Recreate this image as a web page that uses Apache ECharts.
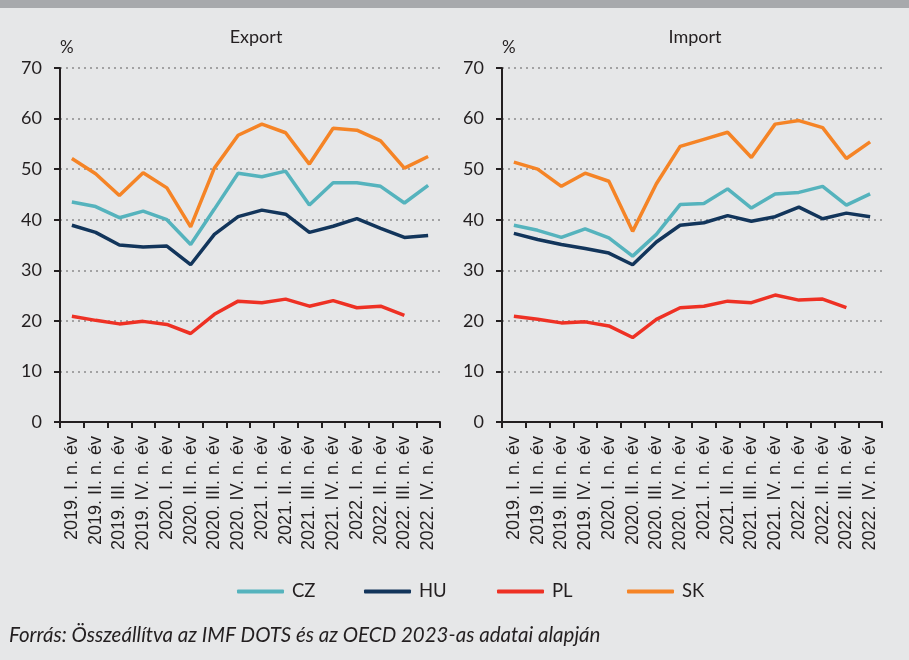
<!DOCTYPE html>
<html><head><meta charset="utf-8">
<script src="https://cdn.jsdelivr.net/npm/echarts@6/dist/echarts.min.js"></script>
<style>html,body{margin:0;padding:0;background:#e6e7e8}#c{width:909px;height:660px}</style>
</head><body><div id="c"></div>
<script>
const categories = ["2019. I. n. év","2019. II. n. év","2019. III. n. év","2019. IV. n. év","2020. I. n. év","2020. II. n. év","2020. III. n. év","2020. IV. n. év","2021. I. n. év","2021. II. n. év","2021. III. n. év","2021. IV. n. év","2022. I. n. év","2022. II. n. év","2022. III. n. év","2022. IV. n. év"];
const yTicks = [0,10,20,30,40,50,60,70];
const exportCZ = [43.5, 42.6, 40.4, 41.7, 40.0, 35.1, 42.1, 49.2, 48.5, 49.6, 42.9, 47.3, 47.3, 46.6, 43.3, 46.8];
const exportHU = [38.9, 37.5, 35.0, 34.6, 34.8, 31.1, 37.1, 40.6, 41.9, 41.1, 37.5, 38.7, 40.2, 38.3, 36.5, 36.9];
const exportPL = [20.9, 20.1, 19.4, 19.9, 19.3, 17.5, 21.3, 23.9, 23.6, 24.3, 22.9, 24.0, 22.6, 22.9, 21.1, null];
const exportSK = [52.1, 49.1, 44.8, 49.3, 46.3, 38.6, 50.2, 56.7, 58.9, 57.2, 51.0, 58.1, 57.7, 55.6, 50.2, 52.5];
const importCZ = [38.9, 37.9, 36.5, 38.2, 36.4, 32.8, 37.1, 43.0, 43.2, 46.1, 42.3, 45.1, 45.4, 46.6, 42.9, 45.1];
const importHU = [37.3, 36.1, 35.1, 34.3, 33.4, 31.1, 35.6, 38.9, 39.4, 40.8, 39.7, 40.6, 42.5, 40.2, 41.3, 40.6];
const importPL = [20.9, 20.3, 19.6, 19.8, 19.0, 16.7, 20.3, 22.6, 22.9, 23.9, 23.6, 25.1, 24.1, 24.3, 22.6, null];
const importSK = [51.4, 50.0, 46.6, 49.2, 47.6, 37.7, 47.1, 54.5, 55.9, 57.3, 52.3, 58.9, 59.6, 58.2, 52.1, 55.4];
const seriesNames = ["CZ","HU","PL","SK"];
const panelTitles = ["Export","Import"];
const sourceText = "Forrás: Összeállítva az IMF DOTS és az OECD 2023-as adatai alapján";

const colors = {CZ:'#55b3bd', HU:'#12355b', PL:'#ee3124', SK:'#f58426'};
const axisColor = '#231f20';
const calFont = 'Lato';

function xAxis(gi){
  return {
    type:'category', gridIndex:gi, data:categories, boundaryGap:true,
    axisLine:{show:true, lineStyle:{color:axisColor, width:2}},
    axisTick:{show:true, length:6, lineStyle:{color:axisColor, width:2}},
    axisLabel:{interval:0, rotate:90, margin:14, fontFamily:'Liberation Sans', fontSize:18, color:axisColor},
    splitLine:{show:false}
  };
}
function yAxis(gi){
  return {
    type:'value', gridIndex:gi, min:0, max:70, interval:10,
    name:'%', nameLocation:'end', nameGap:12,
    nameTextStyle:{fontFamily:calFont, fontSize:17, color:axisColor, align:'left', padding:[0,0,0,0]},
    axisLine:{show:true, lineStyle:{color:axisColor, width:2}},
    axisTick:{show:true, length:6, lineStyle:{color:axisColor, width:2}},
    axisLabel:{margin:18, fontFamily:calFont, fontSize:18, color:axisColor,
      formatter:(v)=> yTicks.includes(v) ? String(v) : ''},
    splitLine:{show:true, lineStyle:{color:'#8c8c8c', width:1.5, type:[2,4]}}
  };
}
function line(name, data, gi){
  return {name, type:'line', xAxisIndex:gi, yAxisIndex:gi, data, symbol:'none',
    lineStyle:{color:colors[name], width:3.5}, itemStyle:{color:colors[name]}, connectNulls:false, z:3};
}
const legendLefts = [232, 359, 492, 622];
const chart = echarts.init(document.getElementById('c'), null, {renderer:'canvas'});
chart.setOption({
  backgroundColor:'#e6e7e8',
  animation:false,
  graphic:[{type:'rect', left:0, top:0, shape:{width:909, height:8}, style:{fill:'#a7a9ac'}}],
  title:[
    {text:panelTitles[0], left:251, top:23, textAlign:'center', textStyle:{fontFamily:calFont, fontSize:18, fontWeight:'normal', color:axisColor}},
    {text:panelTitles[1], left:690, top:23, textAlign:'center', textStyle:{fontFamily:calFont, fontSize:18, fontWeight:'normal', color:axisColor}},
    {text:sourceText, left:4, top:620, textStyle:{fontFamily:calFont, fontSize:20.5, fontStyle:'italic', fontWeight:'normal', color:axisColor}}
  ],
  legend: seriesNames.map((n,i)=>({
    data:[n], left:legendLefts[i], top:577, itemWidth:47, itemHeight:4, icon:'roundRect', itemGap:0,
    textStyle:{fontFamily:calFont, fontSize:18.5, color:axisColor, padding:[0,0,0,3]}
  })),
  grid:[
    {left:60, top:68, width:380, height:354, containLabel:false},
    {left:502, top:68, width:380, height:354, containLabel:false}
  ],
  xAxis:[xAxis(0), xAxis(1)],
  yAxis:[yAxis(0), yAxis(1)],
  series:[
    line('CZ', exportCZ, 0), line('HU', exportHU, 0), line('PL', exportPL, 0), line('SK', exportSK, 0),
    line('CZ', importCZ, 1), line('HU', importHU, 1), line('PL', importPL, 1), line('SK', importSK, 1)
  ]
});
</script></body></html>
